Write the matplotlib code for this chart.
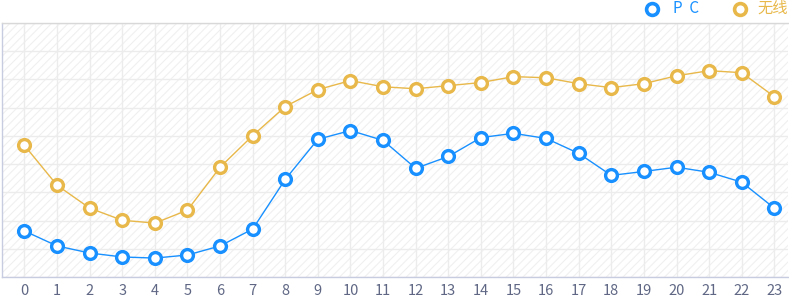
import matplotlib
matplotlib.use("Agg")
import matplotlib.pyplot as plt
from matplotlib.patches import Rectangle
from matplotlib.lines import Line2D

plt.rcParams['font.family'] = ['Noto Sans CJK SC', 'DejaVu Sans']

hours = list(range(24))
pc = [163, 110, 85, 71, 67, 78, 110, 170, 346, 488, 519, 484, 385, 427, 494, 509, 491, 438, 360, 374, 389, 371, 336, 244]
wireless = [466, 325, 244, 201, 191, 237, 389, 501, 604, 664, 696, 674, 667, 678, 689, 710, 706, 685, 671, 685, 713, 731, 724, 639]
series_names = ['P  C', '无线']
colors = ['#1890FF', '#E8B84A']

W, H = 789, 300
fig = plt.figure(figsize=(W/100, H/100), dpi=100)
ax = fig.add_axes([1.5/W, (H-277)/H, (788-1.5)/W, (277-23)/H])

plt.rcParams['hatch.linewidth'] = 0.8
bg = Rectangle((0, 0), 1, 1, transform=ax.transAxes, facecolor='white',
               edgecolor='#f0f0f0', hatch='////', linewidth=0, zorder=0)
ax.add_patch(bg)

for vals, c in zip([pc, wireless], colors):
    ax.plot(hours, vals, color=c, lw=1.0, marker='o', markersize=8.5,
            markerfacecolor='white', markeredgecolor=c, markeredgewidth=2.4, zorder=3)

ax.set_xlim(-0.705, 23.42)
ax.set_ylim(0, 900)
ax.set_xticks(hours)
ax.set_xticklabels([str(h) for h in hours])
ax.set_yticks(range(0, 901, 100))
ax.grid(True, color='#ececec', lw=1.0, zorder=1)
ax.set_axisbelow(True)
ax.tick_params(axis='x', length=0, pad=5, labelsize=10.5, labelcolor='#5F6784')
ax.tick_params(axis='y', length=0, labelleft=False)
ax.spines['top'].set_color('#d8d8d8')
ax.spines['right'].set_visible(False)
ax.spines['left'].set_color('#c8cce0')
ax.spines['bottom'].set_color('#c8cce0')
for s in ax.spines.values():
    s.set_linewidth(1.0)

# legend drawn in figure pixel coordinates
legend_items = [(652, 673), (740, 757)]
for (mx, tx), name, c in zip(legend_items, series_names, colors):
    fig.add_artist(Line2D([mx / W], [(H - 8.5) / H], transform=fig.transFigure, lw=0,
                          marker='o', markersize=8.5, markerfacecolor='white',
                          markeredgecolor=c, markeredgewidth=2.6))
    fig.text(tx / W, (H - 8.5) / H, name, color=c, fontsize=11, ha='left', va='center')

fig.savefig('out.png', dpi=100)
